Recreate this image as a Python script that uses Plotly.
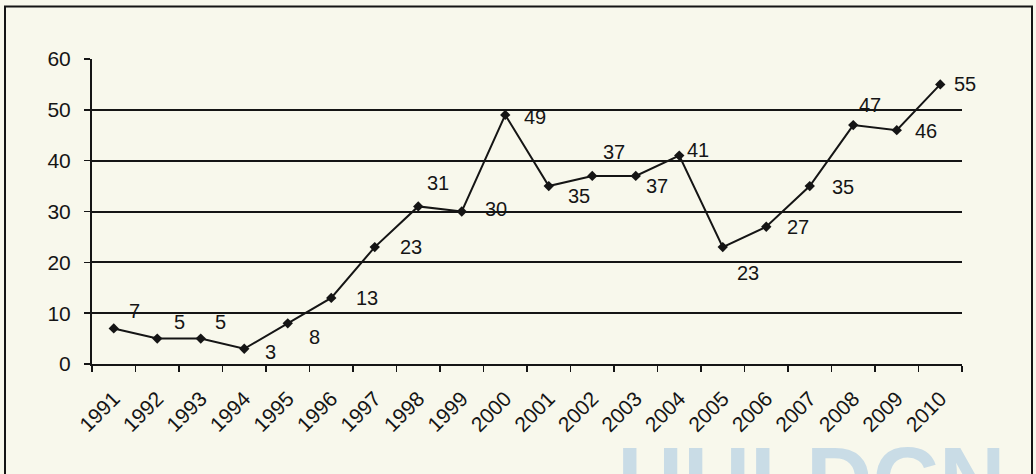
import plotly.graph_objects as go

years = [str(y) for y in range(1991, 2011)]
values = [7, 5, 5, 3, 8, 13, 23, 31, 30, 49, 35, 37, 37, 41, 23, 27, 35, 47, 46, 55]
y_ticks = [0, 10, 20, 30, 40, 50, 60]

# label offsets in pixels (left edge of label relative to point; y up positive)
label_dx = [13, 15, 12, 19, 19, 23, 23, 7, 21, 17, 17, 9, 8, 6, 12, 19, 20, 4, 16, 12]
label_dy = [17, 17, 17, -3, -14, 0, 0, 23, 3, -2, -10, 24, -10, 6, -26, 0, -1, 20, -1, 0]

BG = "#F8F8EC"
INK = "#151515"
FONT = "Arial, Liberation Sans, sans-serif"

W, H = 1036, 474
L, R, T, B = 92, 74, 58.5, 110
pw, ph = W - L - R, H - T - B


def px_x(x):
    return (x - L) / pw


def px_y(y):
    return (H - B - y) / ph


fig = go.Figure()
fig.add_trace(go.Scatter(
    x=years, y=values,
    mode="lines+markers",
    line=dict(color=INK, width=2),
    marker=dict(symbol="diamond", size=8, color=INK),
    cliponaxis=False,
    hoverinfo="skip",
))

annotations = []
for i, (v, dx, dy) in enumerate(zip(values, label_dx, label_dy)):
    annotations.append(dict(
        x=i, y=v, xref="x", yref="y", text=str(v), showarrow=False,
        xanchor="left", yanchor="middle", xshift=dx, yshift=dy,
        font=dict(family=FONT, size=20, color=INK),
    ))

annotations.append(dict(
    text="<b>HULDCN</b>", xref="paper", yref="paper",
    x=px_x(615), y=px_y(533), xanchor="left", yanchor="bottom",
    showarrow=False, font=dict(family=FONT, size=92, color="#C9DCE6"),
))

fig.update_layout(
    width=W, height=H,
    margin=dict(l=L, r=R, t=T, b=B, pad=0),
    paper_bgcolor=BG, plot_bgcolor=BG,
    showlegend=False,
    font=dict(family=FONT, color=INK),
    xaxis=dict(
        type="category", range=[-0.5, 19.5],
        tickson="boundaries", ticks="outside", ticklen=6, tickwidth=1.5, tickcolor=INK,
        tickangle=-45, tickfont=dict(family=FONT, size=21, color=INK),
        ticklabelstandoff=12,
        showgrid=False, showline=True, linecolor=INK, linewidth=2,
        zeroline=False, fixedrange=True, automargin=False,
    ),
    yaxis=dict(
        range=[0, 60], tickvals=y_ticks,
        ticks="outside", ticklen=6, tickwidth=1.5, tickcolor=INK,
        tickfont=dict(family=FONT, size=21, color=INK),
        ticklabelstandoff=9,
        showgrid=True, gridcolor=INK, gridwidth=2,
        showline=True, linecolor=INK, linewidth=2,
        zeroline=False, fixedrange=True, automargin=False,
    ),
    shapes=[
        dict(type="rect", xref="paper", yref="paper",
             x0=px_x(5), x1=px_x(1032), y0=px_y(490), y1=px_y(6),
             line=dict(color=INK, width=2), fillcolor="rgba(0,0,0,0)", layer="below"),
    ],
    annotations=annotations,
)

fig.write_html(
    "out.html",
    config={"displayModeBar": False, "staticPlot": True},
    post_script="document.body.style.margin='0';document.body.style.overflow='hidden';",
)
